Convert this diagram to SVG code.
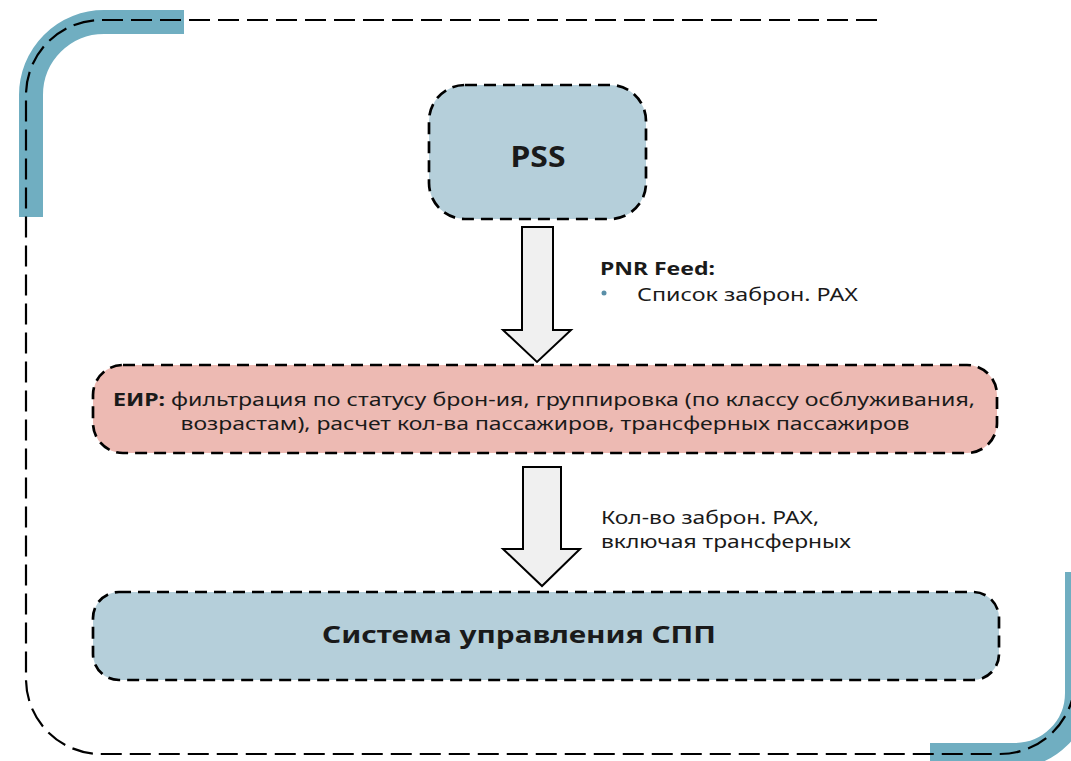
<svg xmlns="http://www.w3.org/2000/svg" width="1071" height="761" viewBox="0 0 1071 761">
<style>
.band{fill:none;stroke:#70AEC1;stroke-width:24}
.frame{fill:none;stroke:#000;stroke-width:2.2;stroke-dasharray:21 8}
.node{stroke:#000;stroke-width:2.7;stroke-dasharray:12 7}
.blue{fill:#B5CFDA}
.pink{fill:#EDBAB3}
.arrow{fill:#F0F0F0;stroke:#000;stroke-width:2}
text{font-family:"Noto Sans","Liberation Sans",sans-serif;fill:#1a1a1a}
.b{font-weight:bold}
.lbl{font-size:18px}
</style>
<rect width="1071" height="761" fill="#fff"/>
<g id="decor">
<path class="band" d="M31,217 V95 A73,73 0 0 1 104,22 H184"/>
<path class="band" d="M930,755 H1015 A62,62 0 0 0 1077,693 V572"/>
<path class="frame" d="M877,20 H101 A75,75 0 0 0 26,95 V679 A75,75 0 0 0 101,754 H1000 A75,75 0 0 0 1075,679"/>
</g>
<g id="pss">
<rect class="node blue" x="429" y="85" width="217" height="134" rx="36"/>
<text class="b" x="538" y="167" font-size="28" text-anchor="middle" textLength="55" lengthAdjust="spacingAndGlyphs">PSS</text>
</g>
<g id="eir">
<rect class="node pink" x="93" y="365" width="904" height="88" rx="30"/>
<text class="lbl" x="544" y="406" text-anchor="middle" textLength="862" lengthAdjust="spacingAndGlyphs"><tspan class="b">ЕИР:</tspan> фильтрация по статусу брон-ия, группировка (по классу осблуживания,</text>
<text class="lbl" x="545" y="430" text-anchor="middle" textLength="729" lengthAdjust="spacingAndGlyphs">возрастам), расчет кол-ва пассажиров, трансферных пассажиров</text>
</g>
<g id="spp">
<rect class="node blue" x="93" y="592" width="906" height="88" rx="26"/>
<text class="b" x="519" y="643" font-size="23" text-anchor="middle" textLength="394" lengthAdjust="spacingAndGlyphs">Система управления СПП</text>
</g>
<g id="connectors">
<path class="arrow" d="M522,227 H553 V330 H571 L537,362 L503,330 H522 Z"/>
<path class="arrow" d="M523,467 H561 V549 H580 L542,586 L503,549 H523 Z"/>
<text class="lbl b" x="600" y="275" textLength="115" lengthAdjust="spacingAndGlyphs">PNR Feed:</text>
<circle cx="604" cy="293" r="2.5" fill="#5A8FA8"/>
<text class="lbl" x="637" y="301" textLength="221" lengthAdjust="spacingAndGlyphs">Список заброн. PAX</text>
<text class="lbl" x="601" y="524" textLength="218" lengthAdjust="spacingAndGlyphs">Кол-во заброн. PAX,</text>
<text class="lbl" x="601" y="548" textLength="250" lengthAdjust="spacingAndGlyphs">включая трансферных</text>
</g>
</svg>
